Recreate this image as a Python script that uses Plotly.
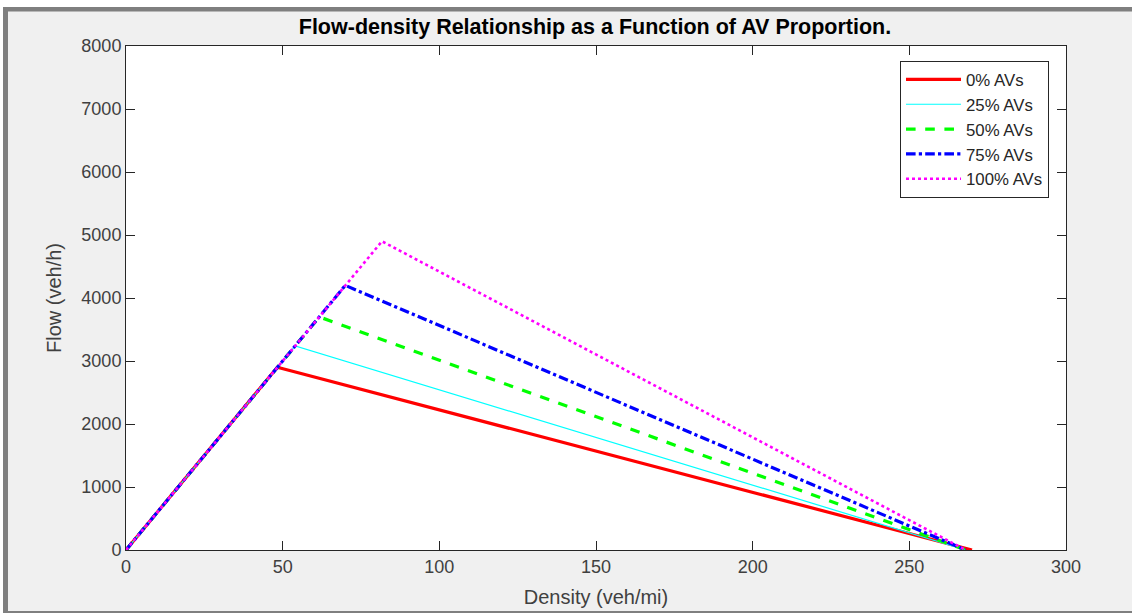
import plotly.graph_objects as go

# ---- data ----
labels = ["0% AVs", "25% AVs", "50% AVs", "75% AVs", "100% AVs"]
critical_density = [48.3, 54.0, 61.7, 70.0, 81.7]      # veh/mi
capacity_flow = [2900, 3240, 3700, 4200, 4900]        # veh/h
jam_density = [270, 268, 268, 268, 268]               # veh/mi

x_ticks = [0, 50, 100, 150, 200, 250, 300]
y_ticks = [0, 1000, 2000, 3000, 4000, 5000, 6000, 7000, 8000]

# ---- styles ----
colors = ["#ff0000", "#00ffff", "#00ff00", "#0000ff", "#ff00ff"]
widths = [3.2, 1.2, 3.2, 3.2, 2.6]
dashes = ["solid", "solid", "dash", "dashdot", "dot"]

W, H = 1132, 613
L, R, T, B = 126, 1066, 46, 550

fig = go.Figure()
for i, name in enumerate(labels):
    fig.add_trace(go.Scatter(
        x=[0, critical_density[i], jam_density[i]],
        y=[0, capacity_flow[i], 0],
        mode="lines",
        name=name,
        line=dict(color=colors[i], width=widths[i], dash=dashes[i]),
    ))

axis_col = "#262626"
text_col = "#404040"
font_fam = "Liberation Sans, Arial, sans-serif"

def px_x(p):
    return (p - L) / (R - L)

def px_y(p):
    return (B - p) / (B - T)

shapes = [
    dict(type="rect", xref="paper", yref="paper", x0=px_x(0), x1=px_x(W), y0=px_y(7), y1=px_y(0),
         fillcolor="white", line=dict(width=0), layer="below"),
    dict(type="rect", xref="paper", yref="paper", x0=px_x(3), x1=px_x(W), y0=px_y(11.5), y1=px_y(7),
         fillcolor="#7f7f7f", line=dict(width=0), layer="below"),
    dict(type="rect", xref="paper", yref="paper", x0=px_x(0), x1=px_x(3), y0=px_y(H), y1=px_y(7),
         fillcolor="white", line=dict(width=0), layer="below"),
    dict(type="rect", xref="paper", yref="paper", x0=px_x(3), x1=px_x(8), y0=px_y(H), y1=px_y(7),
         fillcolor="#7f7f7f", line=dict(width=0), layer="below"),
    dict(type="rect", xref="paper", yref="paper", x0=px_x(3), x1=px_x(W), y0=px_y(H), y1=px_y(611),
         fillcolor="#7f7f7f", line=dict(width=0), layer="below"),
]

fig.update_layout(
    width=W, height=H,
    margin=dict(l=L, r=W - R, t=T, b=H - B, pad=0, autoexpand=False),
    paper_bgcolor="#f0f0f0",
    plot_bgcolor="white",
    font=dict(family=font_fam, size=18, color=axis_col),
    title=dict(
        text="<b>Flow-density Relationship as a Function of AV Proportion.</b>",
        x=595 / W, xanchor="center",
        y=1 - 26 / H, yanchor="middle",
        font=dict(family=font_fam, size=21.5, color="black"),
    ),
    xaxis=dict(
        range=[0, 300], tickvals=x_ticks, ticks="inside", ticklen=9, tickcolor=axis_col,
        showline=True, linecolor=axis_col, linewidth=1, mirror="ticks", showgrid=False,
        zeroline=False, tickfont=dict(size=18, color=text_col), automargin=False,
        title=dict(text="Density (veh/mi)", font=dict(size=20, color=text_col), standoff=14),
    ),
    yaxis=dict(
        range=[0, 8000], tickvals=y_ticks, ticks="inside", ticklen=9, tickcolor=axis_col,
        showline=True, linecolor=axis_col, linewidth=1, mirror="ticks", showgrid=False,
        zeroline=False, tickfont=dict(size=18, color=text_col), automargin=False,
        title=dict(text="Flow (veh/h)", font=dict(size=20, color=text_col), standoff=14),
    ),
    legend=dict(
        x=px_x(1049), y=px_y(61), xanchor="right", yanchor="top",
        bgcolor="white", bordercolor=axis_col, borderwidth=1,
        font=dict(size=16.8, color="#262626"), itemwidth=55, tracegroupgap=0,
    ),
    shapes=shapes,
)

fig.write_html(
    "out.html",
    config={"displayModeBar": False},
    post_script="document.body.style.margin='0';document.body.style.overflow='hidden';",
)
